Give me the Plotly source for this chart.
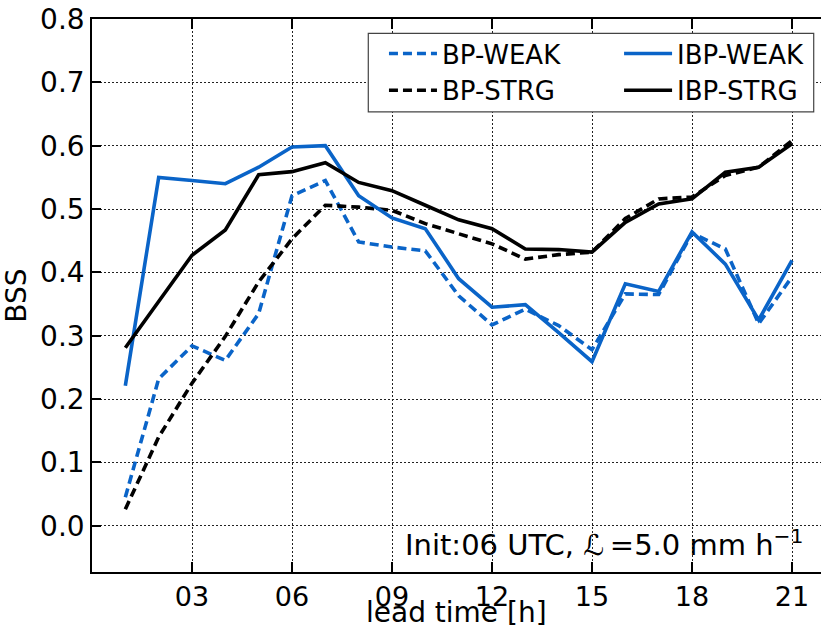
import plotly.graph_objects as go

# Lead time (hours) and Brier skill score per configuration
hours = list(range(1, 22))
bp_weak = [0.045, 0.232, 0.284, 0.261, 0.335, 0.521, 0.545, 0.448, 0.440, 0.434, 0.363,
           0.317, 0.342, 0.316, 0.278, 0.366, 0.365, 0.462, 0.437, 0.319, 0.393]
ibp_weak = [0.221, 0.550, 0.545, 0.540, 0.566, 0.598, 0.600, 0.521, 0.486, 0.469, 0.390,
            0.345, 0.349, 0.305, 0.259, 0.382, 0.370, 0.464, 0.413, 0.325, 0.419]
bp_strg = [0.026, 0.140, 0.225, 0.299, 0.385, 0.453, 0.506, 0.503, 0.498, 0.477, 0.461,
           0.445, 0.421, 0.428, 0.432, 0.485, 0.516, 0.519, 0.553, 0.566, 0.608]
ibp_strg = [0.281, 0.355, 0.427, 0.467, 0.554, 0.559, 0.573, 0.542, 0.529, 0.506, 0.483,
            0.469, 0.437, 0.436, 0.432, 0.479, 0.508, 0.516, 0.558, 0.566, 0.603]

x_ticks = [3, 6, 9, 12, 15, 18, 21]
x_ticklabels = ["03", "06", "09", "12", "15", "18", "21"]
y_ticks = [0.0, 0.1, 0.2, 0.3, 0.4, 0.5, 0.6, 0.7, 0.8]

BLUE = "#0a64c8"
BLACK = "#000000"
FONT = "DejaVu Sans"
LW = 3.6
DASH = "9px,5px"

fig = go.Figure()
fig.add_trace(go.Scatter(x=hours, y=bp_weak, mode="lines", name="BP-WEAK",
                         line=dict(color=BLUE, width=LW, dash=DASH), legend="legend"))
fig.add_trace(go.Scatter(x=hours, y=bp_strg, mode="lines", name="BP-STRG",
                         line=dict(color=BLACK, width=LW, dash=DASH), legend="legend"))
fig.add_trace(go.Scatter(x=hours, y=ibp_weak, mode="lines", name="IBP-WEAK",
                         line=dict(color=BLUE, width=LW), legend="legend2"))
fig.add_trace(go.Scatter(x=hours, y=ibp_strg, mode="lines", name="IBP-STRG",
                         line=dict(color=BLACK, width=LW), legend="legend2"))

legend_common = dict(
    font=dict(family=FONT, size=26, color="black"),
    bgcolor="rgba(0,0,0,0)", borderwidth=0,
    xanchor="left", yanchor="top", y=0.980,
    itemwidth=48, tracegroupgap=0,
)

fig.update_layout(
    width=821, height=631,
    margin=dict(l=92, r=0, t=19, b=59, autoexpand=False),
    paper_bgcolor="white", plot_bgcolor="white",
    font=dict(family=FONT, size=28, color="black"),
    showlegend=True,
    legend=dict(x=0.4005, **legend_common),
    legend2=dict(x=0.723, **legend_common),
    xaxis=dict(
        range=[0, 21.87], tickvals=x_ticks, ticktext=x_ticklabels,
        ticks="inside", ticklen=10, tickwidth=1.5, tickcolor="black",
        showline=True, linecolor="black", linewidth=1.5, mirror="ticks",
        showgrid=True, gridcolor="#222", gridwidth=1, griddash="2px,2px",
        zeroline=False, automargin=False,
        tickfont=dict(size=27),
    ),
    yaxis=dict(
        range=[-0.073, 0.8], tickvals=y_ticks, tickformat=".1f",
        ticks="inside", ticklen=9, tickwidth=1.5, tickcolor="black",
        showline=True, linecolor="black", linewidth=1.5, mirror=False,
        showgrid=True, gridcolor="#222", gridwidth=1, griddash="2px,2px",
        zeroline=False, automargin=False,
        title=dict(text="BSS", font=dict(size=28), standoff=6),
        tickfont=dict(size=28),
    ),
    shapes=[
        dict(type="rect", xref="paper", yref="paper",
             x0=0.379, x1=0.990, y0=0.832, y1=0.974,
             fillcolor="white", line=dict(color="#444", width=1.2), layer="above"),
    ],
    annotations=[
        # x-axis title, sitting at the bottom edge below the tick labels
        dict(text="lead time [h]", xref="paper", yref="paper",
             x=0.5, y=-0.1067, xanchor="center", yanchor="bottom", showarrow=False,
             font=dict(family=FONT, size=28, color="black")),
        dict(text="Init:06 UTC, <i>ℒ</i>\u2009=5.0 mm h<sup>−1</sup>",
             xref="paper", yref="paper", x=0.979, y=0.014,
             xanchor="right", yanchor="bottom", showarrow=False,
             font=dict(family=FONT, size=29, color="black")),
    ],
)

fig.write_html("out.html", config={"displayModeBar": False})
